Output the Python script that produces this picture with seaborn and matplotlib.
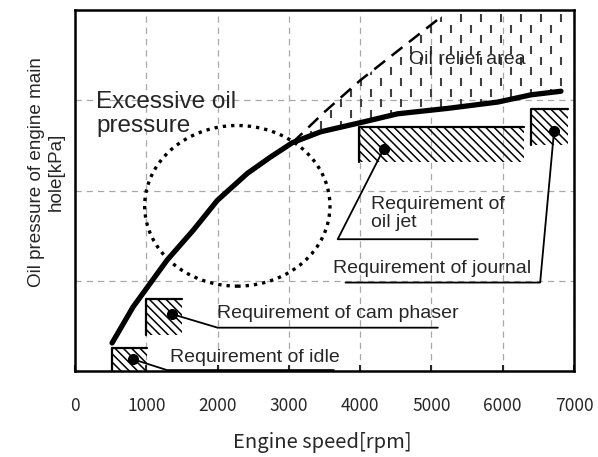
import numpy as np
import matplotlib
matplotlib.use('Agg')
import matplotlib.pyplot as plt
from matplotlib.patches import Ellipse, Polygon
import seaborn as sns
import pandas as pd

# main hole oil pressure vs engine speed (relative units, 1 grid = 1)
speed = [520, 815, 1293, 1659, 1996, 2418, 2741, 3050, 3444, 4048, 4526, 5229, 5932, 6396, 6817]
pressure = [0.31, 0.71, 1.23, 1.56, 1.89, 2.19, 2.37, 2.53, 2.65, 2.76, 2.85, 2.91, 2.98, 3.06, 3.10]

# pressure without relief (dashed)
norelief_speed = [3050, 3500, 4000, 4500, 5130]
norelief_pressure = [2.53, 2.87, 3.22, 3.53, 3.92]
relief_right = 6870

# requirement boxes
req_names = ['Requirement of idle', 'Requirement of cam phaser',
             'Requirement of\noil jet', 'Requirement of journal']
req_x0 = [520, 1000, 3990, 6400]
req_x1 = [1010, 1505, 6300, 6920]
req_y0 = [0.0, 0.40, 2.32, 2.50]
req_y1 = [0.25, 0.80, 2.70, 2.90]
dot_x = [815, 1365, 4330, 6720]
dot_y = [0.13, 0.63, 2.46, 2.66]
elbow_x = [1290, 2000, 3685, 6525]
elbow_y = [0.01, 0.48, 1.46, 0.98]
leader_end_x = [3630, 5090, 5650, 3795]
label_x = [1335, 1995, 4150, 3615]
label_y = [0.155, 0.64, 1.745, 1.14]

# excessive pressure zone (ellipse)
excess_center = (2277, 1.83)
excess_w, excess_h = 2600, 1.78

xticks = [0, 1000, 2000, 3000, 4000, 5000, 6000, 7000]

sns.set_style('white')
plt.rcParams['font.family'] = ['Liberation Sans', 'DejaVu Sans']
plt.rcParams['hatch.linewidth'] = 1.1

fig = plt.figure(figsize=(5.98, 4.57), dpi=100)
ax = fig.add_axes([0.1254, 0.1882, 0.8345, 0.7899])
ax.set_xlim(0, 7000)
ax.set_ylim(0, 4)

df = pd.DataFrame({'speed': speed, 'pressure': pressure})
sns.lineplot(data=df, x='speed', y='pressure', color='black', lw=3.8,
             solid_capstyle='round', ax=ax, zorder=5)
ax.plot(norelief_speed, norelief_pressure, color='black', lw=1.8,
        linestyle=(0, (5.5, 3.3)), zorder=4)

# oil relief area pattern
verts = list(zip(norelief_speed, norelief_pressure))
verts += [(5250, 4.0), (relief_right, 4.0), (relief_right, pressure[-1])]
verts += [(s, p) for s, p in zip(speed[::-1], pressure[::-1]) if s >= norelief_speed[0]]
poly = Polygon(verts, closed=True, facecolor='none', edgecolor='none')
ax.add_patch(poly)
gx, gy = [], []
for i, yy in enumerate(np.arange(3.91, 2.3, -0.118)):
    off = 0 if i % 2 == 0 else 140
    for xx in np.arange(5412 - 10 * 281 + off, 7000, 281):
        gx.append(xx)
        gy.append(yy)
sc = ax.scatter(gx, gy, marker='|', s=40, linewidths=1.5, color='#404040', zorder=3)
sc.set_clip_path(poly)

# requirement boxes
for i in range(4):
    ax.fill_between([req_x0[i], req_x1[i]], [req_y0[i]] * 2, [req_y1[i]] * 2,
                    facecolor='none', edgecolor='black', hatch='\\\\\\\\', linewidth=0, zorder=3)
    ax.plot([req_x0[i], req_x0[i], req_x1[i]], [req_y0[i], req_y1[i], req_y1[i]],
            color='black', lw=1.6, zorder=4)
    ax.plot([dot_x[i], elbow_x[i], leader_end_x[i]], [dot_y[i], elbow_y[i], elbow_y[i]],
            color='black', lw=1.3, zorder=4)
    ax.plot(dot_x[i], dot_y[i], 'o', ms=7, color='black', zorder=6)
    ax.text(label_x[i], label_y[i], req_names[i], fontsize=14, ha='left', va='center',
            linespacing=1.15, zorder=7)

ax.add_patch(Ellipse(excess_center, excess_w, excess_h, fill=False, edgecolor='black',
                     lw=2.4, linestyle=(0, (1, 1.5)), zorder=4))
ax.text(295, 2.85, 'Excessive oil\npressure', fontsize=17.5, ha='left', va='center',
        linespacing=1.15, zorder=7)
ax.text(4682, 3.45, 'Oil relief area', fontsize=14, ha='left', va='center', zorder=7)

ax.set_xticks(xticks)
ax.set_xticklabels([str(t) for t in xticks], family=['Noto Sans CJK JP', 'DejaVu Sans'], fontsize=12.5)
ax.set_yticks([1, 2, 3])
ax.set_yticklabels([])
ax.tick_params(axis='x', direction='in', length=4.5, width=1.5, pad=19, bottom=True)
ax.tick_params(axis='y', length=0)
ax.grid(True, color='#a8a8a8', linestyle=(0, (5, 4)), lw=0.9)
for sp in ax.spines.values():
    sp.set_visible(True)
    sp.set_color('black')
    sp.set_linewidth(1.8)

ax.set_xlabel('Engine speed[rpm]', family=['Noto Sans CJK JP', 'DejaVu Sans'], fontsize=14.5)
ax.xaxis.set_label_coords(0.495, -0.168)
ax.set_ylabel('Oil pressure of engine main\nhole[kPa]', fontsize=13.6, linespacing=1.2)
ax.yaxis.set_label_coords(-0.02, 0.551)

fig.savefig('out.png', dpi=100)
